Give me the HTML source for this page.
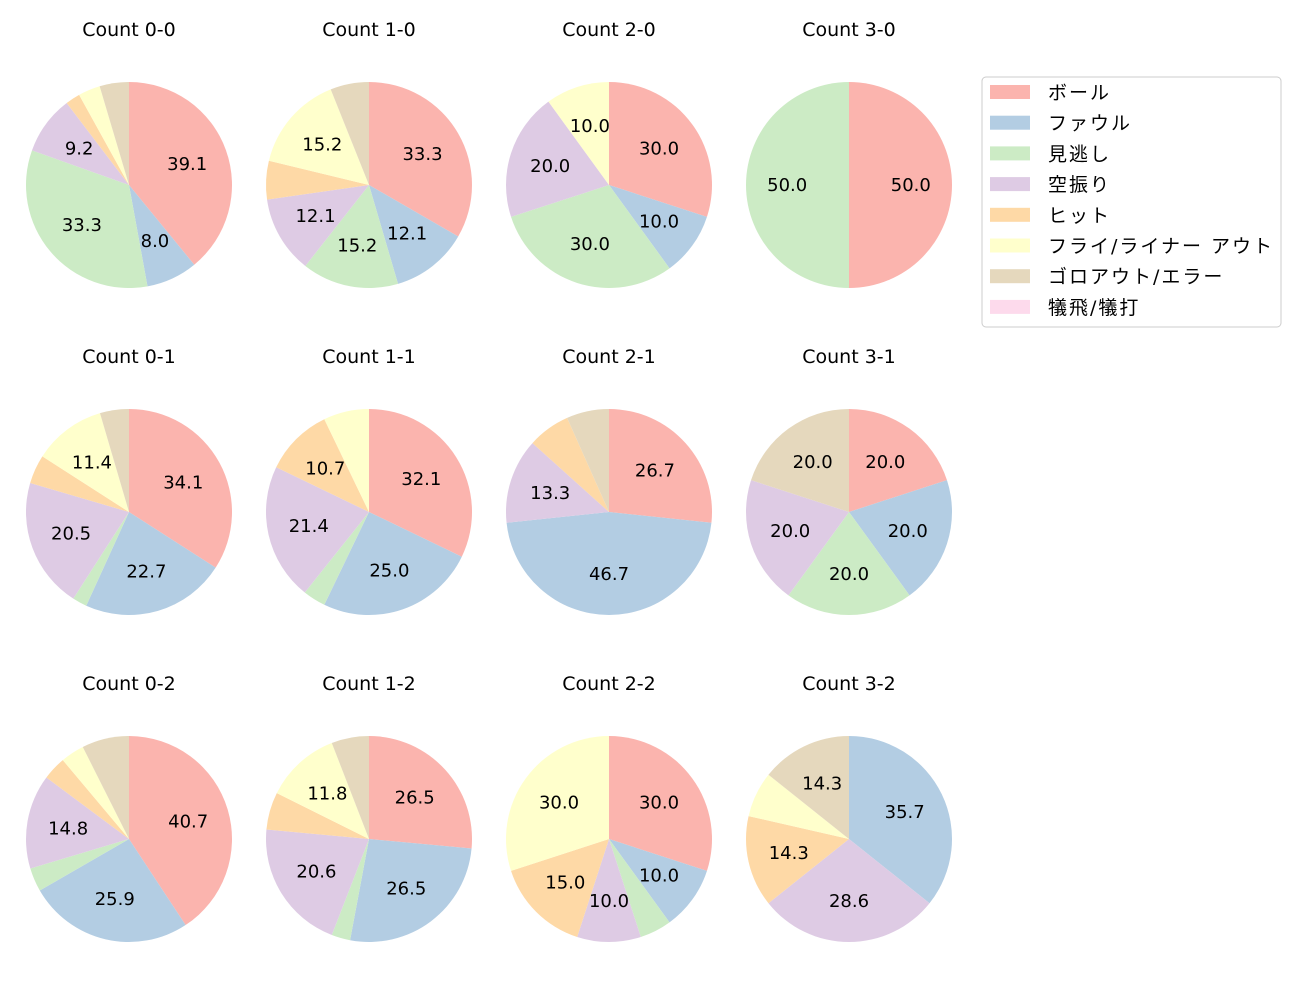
<!DOCTYPE html>
<html><head><meta charset="utf-8">
<style>
html,body{margin:0;padding:0;background:#fff;}
svg{display:block;font-family:"DejaVu Sans","Noto Sans CJK JP",sans-serif;}
</style></head>
<body>
<svg id="chart" width="1300" height="1000" viewBox="0 0 1300 1000" xmlns="http://www.w3.org/2000/svg">
<rect width="1300" height="1000" fill="#fff"/>
</svg>
<script>
const categories = ["ボール","ファウル","見逃し","空振り","ヒット","フライ/ライナー アウト","ゴロアウト/エラー","犠飛/犠打"];
const colors = ["#fbb4ae","#b3cde3","#ccebc5","#decbe4","#fed9a6","#ffffcc","#e5d8bd","#fddaec"];
const countTitles = ["Count 0-0","Count 1-0","Count 2-0","Count 3-0","Count 0-1","Count 1-1","Count 2-1","Count 3-1","Count 0-2","Count 1-2","Count 2-2","Count 3-2"];
const c00 = [34,7,29,8,2,3,4,0];
const c10 = [11,4,5,4,2,5,2,0];
const c20 = [3,1,3,2,0,1,0,0];
const c30 = [1,0,1,0,0,0,0,0];
const c01 = [15,10,1,9,2,5,2,0];
const c11 = [9,7,1,6,3,2,0,0];
const c21 = [4,7,0,2,1,0,1,0];
const c31 = [1,1,1,1,0,0,1,0];
const c02 = [11,7,1,4,1,1,2,0];
const c12 = [9,9,1,7,2,4,2,0];
const c22 = [6,2,1,2,3,6,0,0];
const c32 = [0,5,0,4,2,1,2,0];
const seriesValues = [c00,c10,c20,c30,c01,c11,c21,c31,c02,c12,c22,c32];

const NS = "http://www.w3.org/2000/svg";
const svg = document.getElementById("chart");
const colX = [129,369,609,849], rowY = [185,512,839], R = 103;
function mk(tag, attrs){const e=document.createElementNS(NS,tag);for(const k in attrs)e.setAttribute(k,attrs[k]);svg.appendChild(e);return e;}

seriesValues.forEach((vals, i) => {
  const cx = colX[i%4], cy = rowY[Math.floor(i/4)];
  const total = vals.reduce((a,b)=>a+b,0);
  const t = mk("text",{x:cx,y:cy-149,"text-anchor":"middle","font-size":"19",fill:"#000"});
  t.textContent = countTitles[i];
  
  
  let ang = 90;
  vals.forEach((v, j) => {
    if (v <= 0) return;
    const frac = v/total, sweep = frac*360;
    const a0 = ang*Math.PI/180, a1 = (ang - sweep)*Math.PI/180;
    let el;
    if (frac >= 0.9999) {
      el = mk("circle",{cx:cx,cy:cy,r:R,fill:colors[j]});
    } else {
      const x0 = cx + R*Math.cos(a0), y0 = cy - R*Math.sin(a0);
      const x1 = cx + R*Math.cos(a1), y1 = cy - R*Math.sin(a1);
      const large = sweep > 180 ? 1 : 0;
      el = mk("path",{d:`M${cx},${cy} L${x0},${y0} A${R},${R} 0 ${large} 1 ${x1},${y1} Z`,fill:colors[j]});
    }
    
    
    const pct = frac*100;
    if (pct >= 7.5) {
      const am = (ang - sweep/2)*Math.PI/180;
      const lx = cx + 0.6*R*Math.cos(am), ly = cy - 0.6*R*Math.sin(am);
      const lt = mk("text",{x:lx,y:ly+6,"text-anchor":"middle","font-size":"18",fill:"#000"});
      lt.textContent = pct.toFixed(1);
      
      
    }
    ang -= sweep;
  });
});

const lg = mk("rect",{x:982,y:77,width:299,height:250,rx:4,fill:"#fff",stroke:"#ccc","stroke-width":1});


categories.forEach((c, j) => {
  const y = 92 + j*30.7;
  const sw = mk("rect",{x:990,y:y-7,width:40,height:14,fill:colors[j]});
  
  
  const tx = mk("text",{x:1048,y:y+7,"font-size":"19","letter-spacing":"2",fill:"#000"});
  tx.textContent = c;
  
  
});
</script>
</body></html>
